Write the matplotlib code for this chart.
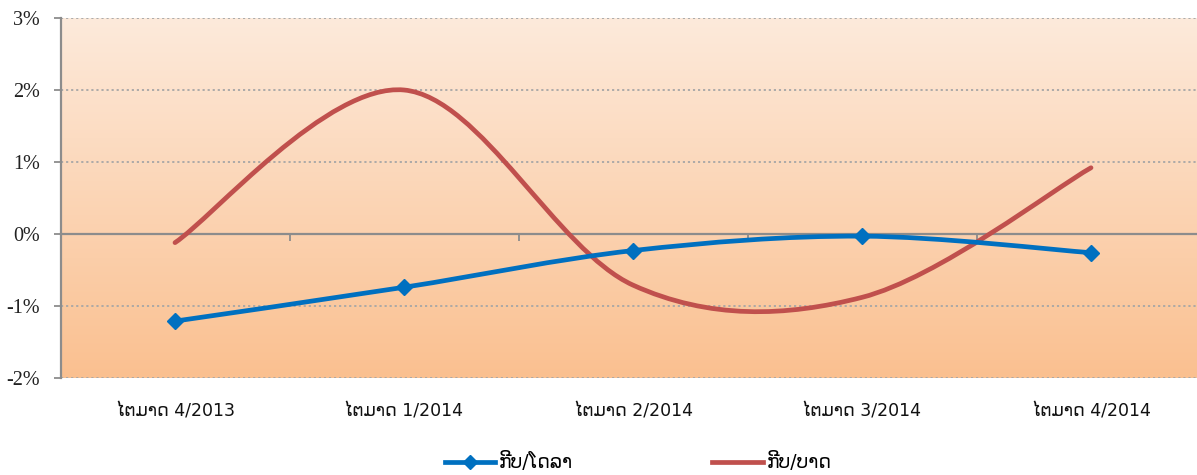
import matplotlib.pyplot as plt
import numpy as np
from matplotlib.path import Path
from matplotlib.patches import PathPatch
from matplotlib.lines import Line2D
from matplotlib.colors import LinearSegmentedColormap

plt.rcParams['font.family'] = ['DejaVu Sans', 'Noto Sans']

categories = ["ໄຕມາດ 4/2013", "ໄຕມາດ 1/2014", "ໄຕມາດ 2/2014", "ໄຕມາດ 3/2014", "ໄຕມາດ 4/2014"]
kip_usd = [-1.21, -0.74, -0.23, -0.03, -0.26]
kip_thb = [-0.12, 2.00, -0.71, -0.88, 0.92]
series_names = ["ກີບ/ໂດລາ", "ກີບ/ບາດ"]
yticks = [-2, -1, 0, 1, 2, 3]
ytick_labels = ["-2%", "-1%", "0%", "1%", "2%", "3%"]

blue = "#0070C0"
red = "#C0504D"
axis_grey = "#8C8C8C"


def smooth_path(xs, ys):
    # cubic bezier through the points, catmull-rom style (like excel's smoothed line)
    pts = np.column_stack([xs, ys]).astype(float)
    n = len(pts)
    verts = [pts[0]]
    codes = [Path.MOVETO]
    for i in range(n - 1):
        p0 = pts[i - 1] if i > 0 else pts[i]
        p1 = pts[i]
        p2 = pts[i + 1]
        p3 = pts[i + 2] if i + 2 < n else pts[i + 1]
        c1 = p1 + (p2 - p0) / 6.0
        c2 = p2 - (p3 - p1) / 6.0
        verts += [c1, c2, p2]
        codes += [Path.CURVE4] * 3
    return Path(verts, codes)


fig = plt.figure(figsize=(11.97, 4.75), dpi=100)
ax = fig.add_axes([60.5 / 1197, 97 / 475, 1145 / 1197, 360 / 475])

x = np.arange(len(categories))
ax.set_xlim(-0.5, len(categories) - 0.5)
ax.set_ylim(-2, 3)

# gradient background
cmap = LinearSegmentedColormap.from_list("bg", ["#FAC090", "#FDEADB"])
grad = np.linspace(0, 1, 256).reshape(-1, 1)
ax.imshow(grad, cmap=cmap, aspect="auto", origin="lower",
          extent=[-0.5, len(categories) - 0.5, -2, 3], zorder=0)

for yv in [-2, -1, 1, 2, 3]:
    ax.axhline(yv, color="#A6A6A6", linestyle=(0, (1.2, 1.6)), linewidth=1.3, zorder=1)

for vals, color in [(kip_thb, red), (kip_usd, blue)]:
    patch = PathPatch(smooth_path(x, vals), facecolor="none", edgecolor=color,
                      linewidth=3.4, capstyle="round", zorder=3)
    ax.add_patch(patch)
ax.plot(x, kip_usd, linestyle="none", marker="D", markersize=8.5,
        color=blue, zorder=4)

for s in ["top", "right", "bottom"]:
    ax.spines[s].set_visible(False)
ax.spines["left"].set_color(axis_grey)
ax.spines["left"].set_linewidth(1.6)

ax.set_yticks(yticks)
ax.set_yticklabels(ytick_labels, fontfamily=["Liberation Serif", "DejaVu Serif"],
                   fontsize=14.5, color="#222222")
ax.tick_params(axis="y", direction="out", length=5, width=1.3, color=axis_grey, pad=10)

ax.set_xticks(x)
ax.set_xticklabels(categories, fontsize=12.5, color="#111111")
ax.tick_params(axis="x", length=0, pad=18)

# category axis crossing at 0%
sec = ax.secondary_xaxis(0.4)
sec.set_xticks(np.arange(len(categories) - 1) + 0.5)
sec.set_xticklabels([])
sec.spines["bottom"].set_color(axis_grey)
sec.spines["bottom"].set_linewidth(1.6)
sec.tick_params(direction="out", length=5, width=1.3, color=axis_grey)

handles = [
    Line2D([], [], color=blue, linewidth=3.4, marker="D", markersize=7),
    Line2D([], [], color=red, linewidth=3.4),
]
fig.legend(handles, series_names, loc="center", bbox_to_anchor=(0.533, 0.027),
           ncol=2, frameon=False, fontsize=13.5, handlelength=2.7,
           handletextpad=0.2, columnspacing=7.4)

fig.savefig("out.png", dpi=100)
